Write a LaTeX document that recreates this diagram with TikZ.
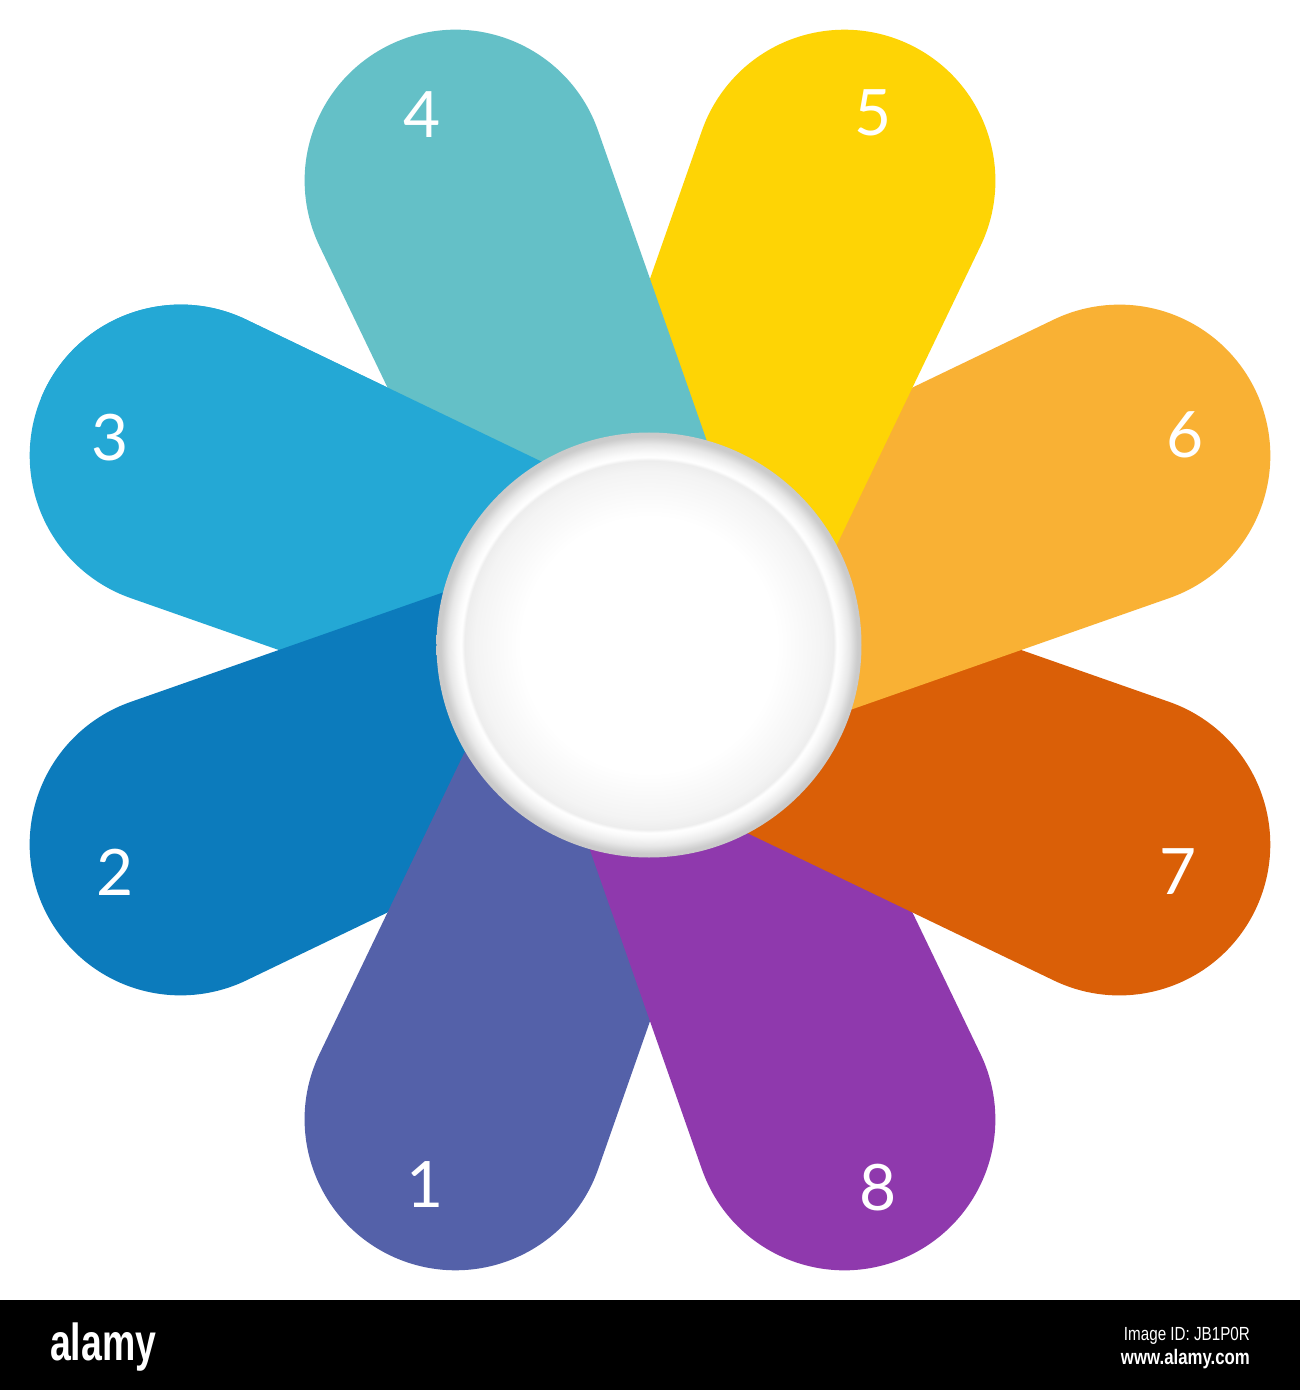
\documentclass[tikz,border=0pt]{standalone}
\usepackage{fontspec}
\setmainfont{Lato}
\newfontfamily\barfont{Liberation Sans}
\definecolor{p1}{HTML}{5461A9}
\definecolor{p2}{HTML}{0C7BBC}
\definecolor{p3}{HTML}{24A8D5}
\definecolor{p4}{HTML}{64C0C7}
\definecolor{p5}{HTML}{FED405}
\definecolor{p6}{HTML}{F9B134}
\definecolor{p7}{HTML}{DA5F07}
\definecolor{p8}{HTML}{8F39AD}
\pgfdeclareradialshading{ringshade}{\pgfpointorigin}{%
  rgb(0bp)=(1,1,1);
  rgb(15bp)=(1,1,1);
  rgb(20.5bp)=(0.955,0.955,0.955);
  rgb(21.7bp)=(0.93,0.93,0.93);
  rgb(22.1bp)=(1,1,1);
  rgb(22.6bp)=(0.98,0.98,0.98);
  rgb(23.6bp)=(0.91,0.91,0.91);
  rgb(24.5bp)=(0.80,0.80,0.80);
  rgb(25bp)=(0.79,0.79,0.79);
  rgb(50bp)=(0.79,0.79,0.79)}
\tikzset{
  num/.style={text=white, inner sep=0pt, font=\fontsize{64}{64}\selectfont},
  hub/.style={circle, minimum size=425pt, inner sep=0pt, shading=ringshade},
}
% tapered petal: half width 123 at the centre, tip circle radius 151 at distance 508
\newcommand{\petal}[2]{%
  \fill[#2, rotate=#1] (0,-123) -- ([shift={(508,0)}]-93.2:151)
    arc[start angle=-93.2, end angle=93.2, radius=151] -- (0,123) -- cycle;}
\begin{document}
\begin{tikzpicture}[x=1pt,y=1pt]
\useasboundingbox (-650,-740) rectangle (650,650);
\fill[white] (-650,-740) rectangle (650,650);
% petals, in stacking order
\petal{157.5}{p3}
\petal{202.5}{p2}
\petal{247.5}{p1}
\petal{292.5}{p8}
\petal{337.5}{p7}
\petal{22.5}{p6}
\petal{67.5}{p5}
\petal{112.5}{p4}
% petal 3 lies over petal 4
\begin{scope}
  \clip[rotate=67.5] (0,-1500) rectangle (1500,1500);
  \petal{157.5}{p3}
\end{scope}
% centre
\node[hub] (hub) at (-1,5) {};
% numbers
\node[num] (n1) at (-225,-535) {1};
\node[num] (n2) at (-535,-222) {2};
\node[num] (n3) at (-540,212) {3};
\node[num] (n4) at (-228,535) {4};
\node[num] (n5) at (223,537) {5};
\node[num] (n6) at (535,215) {6};
\node[num] (n7) at (528,-222) {7};
\node[num] (n8) at (228,-538) {8};
% bottom bar
\fill[black] (-650,-650) rectangle (650,-740);
\node[text=white, inner sep=0pt, anchor=base west, xscale=0.72, font=\barfont\bfseries\fontsize{52}{52}\selectfont] (logo) at (-600,-710) {alamy};
\node[text=white, inner sep=0pt, anchor=base east, xscale=0.8, font=\barfont\fontsize{19}{19}\selectfont] (imgid) at (600,-690) {Image ID: JB1P0R};
\node[text=white, inner sep=0pt, anchor=base east, xscale=0.8, font=\barfont\bfseries\fontsize{21}{21}\selectfont] (www) at (600,-714) {www.alamy.com};
\end{tikzpicture}
\end{document}
